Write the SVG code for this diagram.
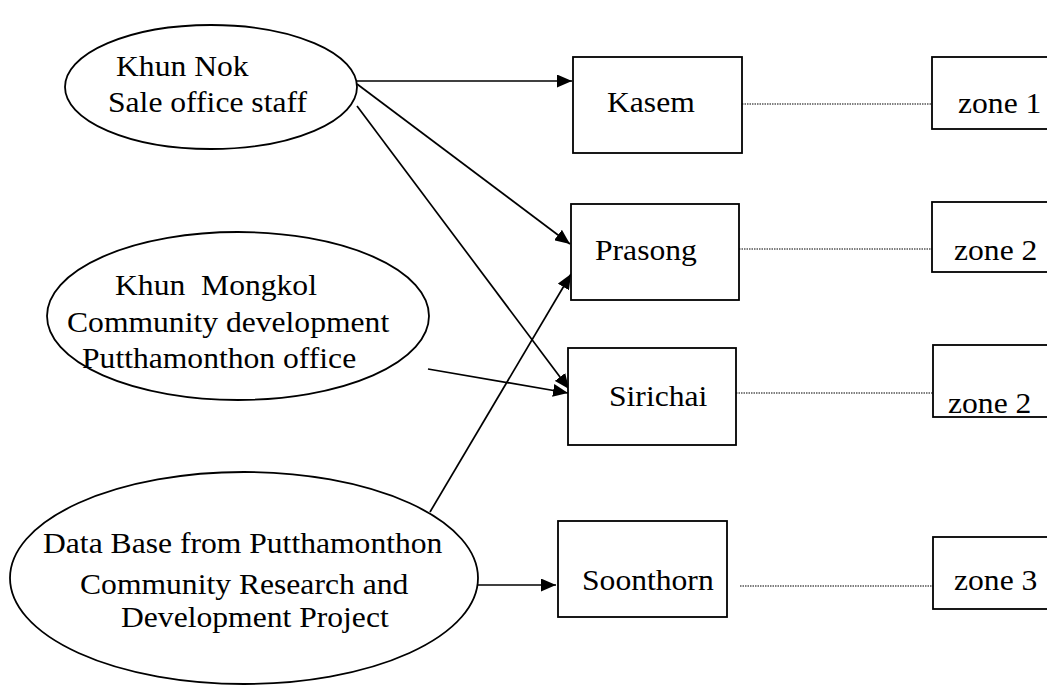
<svg xmlns="http://www.w3.org/2000/svg" width="1047" height="686" viewBox="0 0 1047 686">
<defs>
<style>
.shape{fill:#fff;stroke:#000;stroke-width:1.8}
.t{font-family:"Liberation Serif","Times New Roman",serif;font-size:29px;fill:#000}
.conn{stroke:#000;stroke-width:1.7;fill:none;marker-end:url(#ah)}
.dot{stroke:#000;stroke-width:1.1;fill:none;stroke-dasharray:1.5 1}
</style>
<marker id="ah" markerUnits="userSpaceOnUse" markerWidth="16" markerHeight="13" refX="15" refY="6.5" orient="auto">
<path d="M0,0 L15,6.5 L0,13 Z" fill="#000"/>
</marker>
</defs>
<rect width="1047" height="686" fill="#fff"/>
<g id="connectors">
<line class="conn" x1="357" y1="81" x2="572" y2="81"/>
<line class="conn" x1="357" y1="84" x2="570" y2="244"/>
<line class="conn" x1="357" y1="106" x2="569" y2="389"/>
<line class="conn" x1="428" y1="369" x2="568" y2="393"/>
<line class="conn" x1="430" y1="512" x2="571" y2="274"/>
<line class="conn" x1="477" y1="585" x2="556" y2="585"/>
<line class="dot" x1="742" y1="104" x2="932" y2="104"/>
<line class="dot" x1="739" y1="249" x2="932" y2="249"/>
<line class="dot" x1="736" y1="393" x2="933" y2="393"/>
<line class="dot" x1="740" y1="586" x2="933" y2="586"/>
</g>
<g id="khun-nok">
<ellipse class="shape" cx="211" cy="87" rx="146" ry="62"/>
<text class="t" transform="translate(116,76) scale(1.09,1)">Khun Nok</text>
<text class="t" transform="translate(108,112) scale(1.09,1)">Sale office staff</text>
</g>
<g id="khun-mongkol">
<ellipse class="shape" cx="238" cy="316" rx="191" ry="84"/>
<text class="t" transform="translate(115,295) scale(1.09,1)" xml:space="preserve">Khun  Mongkol</text>
<text class="t" transform="translate(67,332) scale(1.09,1)">Community development</text>
<text class="t" transform="translate(82,368) scale(1.09,1)">Putthamonthon office</text>
</g>
<g id="database">
<ellipse class="shape" cx="244" cy="578" rx="234" ry="106"/>
<text class="t" transform="translate(43,553) scale(1.09,1)">Data Base from Putthamonthon</text>
<text class="t" transform="translate(80,594) scale(1.09,1)">Community Research and</text>
<text class="t" transform="translate(121,627) scale(1.09,1)">Development Project</text>
</g>
<g id="kasem">
<rect class="shape" x="573" y="57" width="169" height="96"/>
<text class="t" transform="translate(607,112) scale(1.09,1)">Kasem</text>
</g>
<g id="prasong">
<rect class="shape" x="571" y="204" width="168" height="96"/>
<text class="t" transform="translate(595,260) scale(1.09,1)">Prasong</text>
</g>
<g id="sirichai">
<rect class="shape" x="568" y="348" width="168" height="97"/>
<text class="t" transform="translate(609,406) scale(1.09,1)">Sirichai</text>
</g>
<g id="soonthorn">
<rect class="shape" x="558" y="521" width="169" height="96"/>
<text class="t" transform="translate(582,590) scale(1.09,1)">Soonthorn</text>
</g>
<g id="zone1">
<rect class="shape" x="932" y="57" width="130" height="72"/>
<text class="t" transform="translate(958,113) scale(1.09,1)">zone 1</text>
</g>
<g id="zone2a">
<rect class="shape" x="932" y="202" width="130" height="70"/>
<text class="t" transform="translate(954,260) scale(1.09,1)">zone 2</text>
</g>
<g id="zone2b">
<rect class="shape" x="933" y="345" width="130" height="72"/>
<text class="t" transform="translate(948,413) scale(1.09,1)">zone 2</text>
</g>
<g id="zone3">
<rect class="shape" x="933" y="537" width="130" height="72"/>
<text class="t" transform="translate(954,590) scale(1.09,1)">zone 3</text>
</g>
</svg>
